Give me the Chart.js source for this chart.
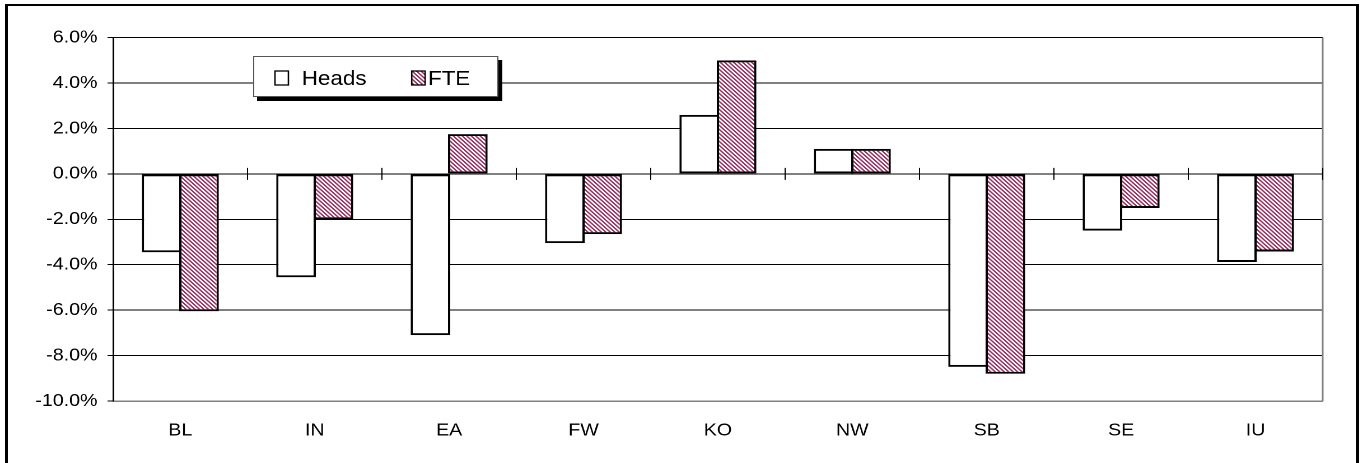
<!DOCTYPE html>
<html lang="en">
<head>
<meta charset="UTF-8">
<title>Heads vs FTE</title>
<script src="https://cdn.jsdelivr.net/npm/chart.js"></script>
<style>
    body {
        margin: 0;
        width: 1362px;
        height: 463px;
        overflow: hidden;
        position: relative;
        background: #fff;
    }
    .frame {
        position: absolute;
        left: 5px;
        top: 4px;
        width: 1354px;
        height: 480px;
        box-sizing: border-box;
        border: 3px solid #000;
        border-top-width: 2px;
        border-bottom: none;
    }
    /* the original picture is stretched sideways, so the chart is too */
    .wrap {
        position: absolute;
        left: 0;
        top: 0;
        width: 1216px;
        height: 463px;
        transform: scaleX(1.12);
        transform-origin: 0 0;
    }
</style>
</head>
<body>
<div class="frame"></div>
<div class="wrap">
    <canvas id="chart" width="1216" height="463"></canvas>
</div>

<script>
    const categories = ['BL', 'IN', 'EA', 'FW', 'KO', 'NW', 'SB', 'SE', 'IU'];
    const heads = [-3.45, -4.55, -7.1, -3.05, 2.6, 1.1, -8.5, -2.5, -3.88];
    const fte = [-6.05, -2.0, 1.75, -2.65, 5.0, 1.1, -8.8, -1.5, -3.42];
    const seriesNames = ['Heads', 'FTE'];
    const yMin = -10, yMax = 6, yStep = 2;

    Chart.defaults.font.family = '"Liberation Sans", Arial, sans-serif';
    Chart.defaults.color = '#000';

    // purple / white downward diagonal hatch
    function makeHatch() {
        const c = document.createElement('canvas');
        c.width = 8; c.height = 8;
        const g = c.getContext('2d');
        g.fillStyle = '#fff';
        g.fillRect(0, 0, 8, 8);
        g.fillStyle = '#993366';
        for (let y = 0; y < 8; y++) {
            for (let x = 0; x < 8; x++) {
                if (((x - y) % 8 + 8) % 8 < 4) g.fillRect(x, y, 1, 1);
            }
        }
        const p = g.createPattern(c, 'repeat');
        p.setTransform(new DOMMatrix([0.5, 0, 0, 0.5, 0, 0]));
        return p;
    }
    const hatch = makeHatch();

    const plotBits = {
        id: 'plotBits',
        beforeDatasetsDraw(chart) {
            const a = chart.chartArea, ctx = chart.ctx;
            ctx.save();
            ctx.strokeStyle = '#808080';
            ctx.lineWidth = 1.5;
            ctx.beginPath();
            ctx.moveTo(a.right, a.top);
            ctx.lineTo(a.right, a.bottom);
            ctx.stroke();
            ctx.restore();
        },
        afterDatasetsDraw(chart) {
            // category tick marks crossing the zero line
            const x = chart.scales.x, y = chart.scales.y, ctx = chart.ctx;
            const y0 = y.getPixelForValue(0);
            ctx.save();
            ctx.strokeStyle = '#000';
            ctx.lineWidth = 1;
            ctx.beginPath();
            for (let i = 0; i <= categories.length; i++) {
                const px = x.getPixelForValue(i - 0.5);
                ctx.moveTo(px, y0 - 6);
                ctx.lineTo(px, y0 + 6);
            }
            ctx.stroke();
            ctx.restore();
        },
        afterDraw(chart) {
            const ctx = chart.ctx;
            const bx = 226, by = 56, bw = 219, bh = 41;
            ctx.save();
            ctx.fillStyle = '#000';
            ctx.fillRect(bx + 3.5, by + 4, bw, bh);
            ctx.fillStyle = '#fff';
            ctx.fillRect(bx, by, bw, bh);
            ctx.strokeStyle = '#555';
            ctx.lineWidth = 1;
            ctx.strokeRect(bx + 0.5, by + 0.5, bw - 1, bh - 1);

            const items = [
                { sx: 245.5, tx: 269.4 },
                { sx: 367.6, tx: 382.1 }
            ];
            ctx.font = '20px "Liberation Sans", Arial, sans-serif';
            ctx.textBaseline = 'alphabetic';
            chart.data.datasets.forEach((ds, i) => {
                const it = items[i];
                ctx.fillStyle = ds.backgroundColor;
                ctx.fillRect(it.sx, 71, 12, 14);
                ctx.strokeStyle = '#000';
                ctx.lineWidth = 1.3;
                ctx.strokeRect(it.sx, 71, 12, 14);
                ctx.fillStyle = '#000';
                ctx.fillText(ds.label, it.tx, 85);
            });
            ctx.restore();
        }
    };

    new Chart(document.getElementById('chart'), {
        type: 'bar',
        data: {
            labels: categories,
            datasets: [
                {
                    label: seriesNames[0],
                    data: heads,
                    backgroundColor: '#ffffff',
                    borderColor: '#000',
                    borderWidth: 2,
                    borderSkipped: false
                },
                {
                    label: seriesNames[1],
                    data: fte,
                    backgroundColor: hatch,
                    borderColor: '#000',
                    borderWidth: 2,
                    borderSkipped: false
                }
            ]
        },
        options: {
            responsive: false,
            animation: false,
            devicePixelRatio: 2,
            categoryPercentage: 0.556,
            barPercentage: 1.06,
            layout: { padding: { left: 0, right: 35, top: 37.6, bottom: 0 } },
            plugins: {
                legend: { display: false },
                tooltip: { enabled: false }
            },
            scales: {
                x: {
                    grid: { display: false, drawTicks: false },
                    border: { color: '#808080', width: 1.5 },
                    ticks: { font: { size: 17.5 }, padding: 19 },
                    afterFit(s) { s.height = 62; }
                },
                y: {
                    min: yMin,
                    max: yMax,
                    grid: { color: '#000', lineWidth: 1, tickLength: 5, tickColor: '#000' },
                    border: { color: '#000', width: 1.5 },
                    ticks: {
                        stepSize: yStep,
                        font: { size: 17.5 },
                        padding: 9,
                        callback: v => v.toFixed(1) + '%'
                    },
                    afterFit(s) { s.width = 101; }
                }
            }
        },
        plugins: [plotBits]
    });
</script>
</body>
</html>
